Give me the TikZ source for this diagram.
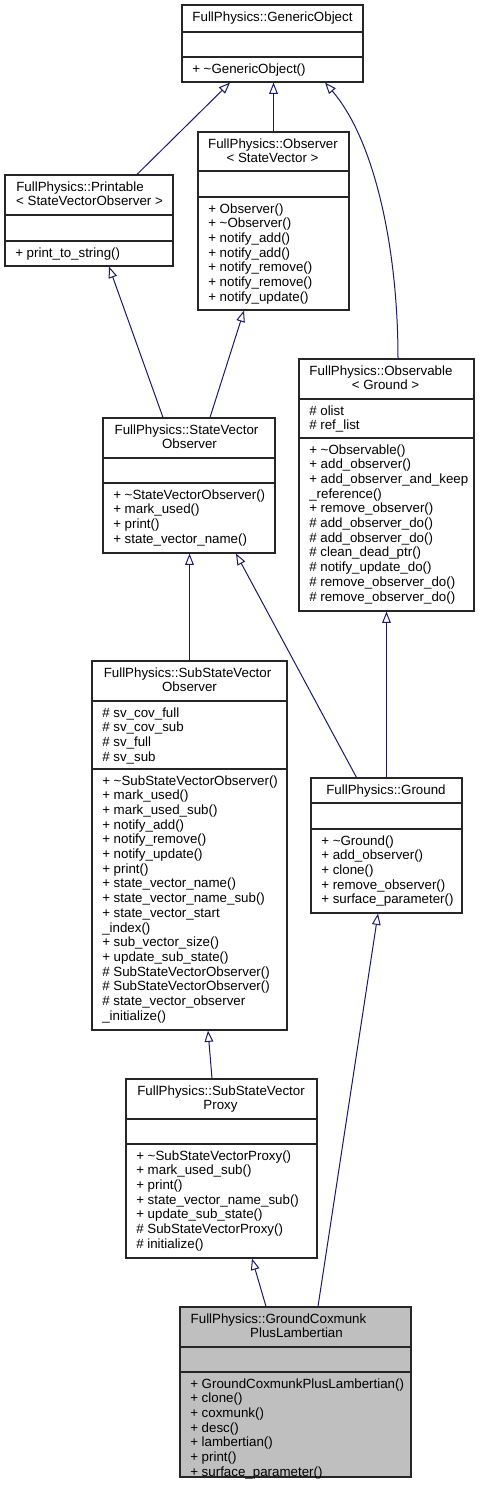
\documentclass[tikz,border=0pt]{standalone}
\usepackage{fontspec}
\setmainfont{Liberation Sans}
\usetikzlibrary{arrows.meta,calc}
\definecolor{edgeblue}{HTML}{191970}

\begin{document}
\begin{tikzpicture}[x=0.75pt,y=-0.75pt,font=\fontsize{10}{11}\selectfont,
  cls/.style n args={2}{draw=black!85,line width=0.85pt,minimum width=#1*0.75pt,minimum height=#2*0.75pt,inner sep=0pt},
  sep/.style={draw=black!85,line width=0.85pt},
  ttl/.style={anchor=base,inner sep=0pt},
  mem/.style={anchor=base west,inner sep=0pt},
  inh/.style={-{Triangle[open,length=8.5pt,width=6.5pt]},draw=edgeblue,line width=0.75pt}]
\useasboundingbox (0,0) rectangle (479,1492);
% classes
\node[cls={181}{77}]  (generic)    at (272.5,43.5) {};
\node[cls={168}{91}]  (printable)  at (89,220.5) {};
\node[cls={151}{178}] (observer)   at (273.5,221) {};
\node[cls={172}{135}] (svo)        at (189,485.5) {};
\node[cls={175}{252}] (observable) at (386.5,485) {};
\node[cls={195}{369}] (subsvo)     at (189.5,845.5) {};
\node[cls={151}{135}] (ground)     at (386.5,845.5) {};
\node[cls={191}{179}] (proxy)      at (221.5,1168.5) {};
\node[cls={231}{170},fill=black!25] (gcpl) at (295.5,1392) {};
% compartments
\draw[sep] (generic.west |- 0,32) -- (generic.east |- 0,32) (generic.west |- 0,57) -- (generic.east |- 0,57);
\draw[sep] (printable.west |- 0,215) -- (printable.east |- 0,215) (printable.west |- 0,241) -- (printable.east |- 0,241);
\draw[sep] (observer.west |- 0,171) -- (observer.east |- 0,171) (observer.west |- 0,197) -- (observer.east |- 0,197);
\draw[sep] (svo.west |- 0,458) -- (svo.east |- 0,458) (svo.west |- 0,483) -- (svo.east |- 0,483);
\draw[sep] (observable.west |- 0,399) -- (observable.east |- 0,399) (observable.west |- 0,438) -- (observable.east |- 0,438);
\draw[sep] (subsvo.west |- 0,701) -- (subsvo.east |- 0,701) (subsvo.west |- 0,769) -- (subsvo.east |- 0,769);
\draw[sep] (ground.west |- 0,803) -- (ground.east |- 0,803) (ground.west |- 0,829) -- (ground.east |- 0,829);
\draw[sep] (proxy.west |- 0,1119) -- (proxy.east |- 0,1119) (proxy.west |- 0,1144) -- (proxy.east |- 0,1144);
\draw[sep] (gcpl.west |- 0,1347) -- (gcpl.east |- 0,1347) (gcpl.west |- 0,1372) -- (gcpl.east |- 0,1372);
% titles
\node[ttl] (generic-t)     at (272.5,21.5) {FullPhysics::GenericObject};
\node[ttl] (printable-t1)  at (80,191) {FullPhysics::Printable};
\node[ttl] (printable-t2)  at (89.5,205.7) {< StateVectorObserver >};
\node[ttl] (observer-t1)   at (273,148) {FullPhysics::Observer};
\node[ttl] (observer-t2)   at (272.5,162.7) {< StateVector >};
\node[ttl] (svo-t1)        at (186.5,434) {FullPhysics::StateVector};
\node[ttl] (svo-t2)        at (189.5,448.7) {Observer};
\node[ttl] (observable-t1) at (381,375) {FullPhysics::Observable};
\node[ttl] (observable-t2) at (385.5,389.7) {< Ground >};
\node[ttl] (subsvo-t1)     at (187.5,677) {FullPhysics::SubStateVector};
\node[ttl] (subsvo-t2)     at (189.5,691.7) {Observer};
\node[ttl] (ground-t)      at (386,794) {FullPhysics::Ground};
\node[ttl] (proxy-t1)      at (221,1095) {FullPhysics::SubStateVector};
\node[ttl] (proxy-t2)      at (220.5,1109.7) {Proxy};
\node[ttl] (gcpl-t1)       at (278.5,1323) {FullPhysics::GroundCoxmunk};
\node[ttl] (gcpl-t2)       at (296.5,1337.7) {PlusLambertian};
% members
\foreach \t [count=\i from 0] in {+ \textasciitilde GenericObject()}
  \node[mem] (generic-m\i) at (192,{73+14.7*\i}) {\t};
\foreach \t [count=\i from 0] in {+ print\_to\_string()}
  \node[mem] (printable-m\i) at (15,{257+14.7*\i}) {\t};
\foreach \t [count=\i from 0] in {+ Observer(),+ \textasciitilde Observer(),+ notify\_add(),+ notify\_add(),
    + notify\_remove(),+ notify\_remove(),+ notify\_update()}
  \node[mem] (observer-m\i) at (208,{213+14.7*\i}) {\t};
\foreach \t [count=\i from 0] in {+ \textasciitilde StateVectorObserver(),+ mark\_used(),+ print(),+ state\_vector\_name()}
  \node[mem] (svo-m\i) at (113,{499+14.7*\i}) {\t};
\foreach \t [count=\i from 0] in {\# olist,\# ref\_list}
  \node[mem] (observable-a\i) at (309,{415+14.7*\i}) {\t};
\foreach \t [count=\i from 0] in {+ \textasciitilde Observable(),+ add\_observer(),+ add\_observer\_and\_keep,
    \_reference(),+ remove\_observer(),\# add\_observer\_do(),\# add\_observer\_do(),\# clean\_dead\_ptr(),
    \# notify\_update\_do(),\# remove\_observer\_do(),\# remove\_observer\_do()}
  \node[mem] (observable-m\i) at (309,{454+14.7*\i}) {\t};
\foreach \t [count=\i from 0] in {\# sv\_cov\_full,\# sv\_cov\_sub,\# sv\_full,\# sv\_sub}
  \node[mem] (subsvo-a\i) at (102,{717+14.7*\i}) {\t};
\foreach \t [count=\i from 0] in {+ \textasciitilde SubStateVectorObserver(),+ mark\_used(),+ mark\_used\_sub(),
    + notify\_add(),+ notify\_remove(),+ notify\_update(),+ print(),+ state\_vector\_name(),
    + state\_vector\_name\_sub(),+ state\_vector\_start,\_index(),+ sub\_vector\_size(),
    + update\_sub\_state(),\# SubStateVectorObserver(),\# SubStateVectorObserver(),
    \# state\_vector\_observer,\_initialize()}
  \node[mem] (subsvo-m\i) at (102,{785+14.7*\i}) {\t};
\foreach \t [count=\i from 0] in {+ \textasciitilde Ground(),+ add\_observer(),+ clone(),+ remove\_observer(),+ surface\_parameter()}
  \node[mem] (ground-m\i) at (321,{845+14.7*\i}) {\t};
\foreach \t [count=\i from 0] in {+ \textasciitilde SubStateVectorProxy(),+ mark\_used\_sub(),+ print(),
    + state\_vector\_name\_sub(),+ update\_sub\_state(),\# SubStateVectorProxy(),\# initialize()}
  \node[mem] (proxy-m\i) at (136,{1160+14.7*\i}) {\t};
\foreach \t [count=\i from 0] in {+ GroundCoxmunkPlusLambertian(),+ clone(),+ coxmunk(),+ desc(),
    + lambertian(),+ print(),+ surface\_parameter()}
  \node[mem] (gcpl-m\i) at (190,{1388+14.7*\i}) {\t};
% inheritance
\draw[inh] ($(printable.north)+(48,0)$) -- ($(generic.south)+(-42.5,0)$);
\draw[inh] (observer.north) -- (observer.north |- generic.south);
\draw[inh] ($(observable.north)+(11.5,0)$) .. controls ($(observable.north)+(11.5,-109)$) and ($(generic.south)+(102.5,58)$) .. ($(generic.south)+(52.5,0)$);
\draw[inh] ($(svo.north)+(-26,0)$) -- ($(printable.south)+(20,0)$);
\draw[inh] ($(svo.north)+(21,0)$) -- ($(observer.south)+(-29.5,0)$);
\draw[inh] (subsvo.north) -- (subsvo.north |- svo.south);
\draw[inh] ($(ground.north)+(-30,0)$) -- ($(svo.south)+(47,0)$);
\draw[inh] (ground.north) -- (ground.north |- observable.south);
\draw[inh] ($(proxy.north)+(-9.5,0)$) -- ($(subsvo.south)+(18.5,0)$);
\draw[inh] ($(gcpl.north)+(-29.5,0)$) -- ($(proxy.south)+(30.5,0)$);
\draw[inh] ($(gcpl.north)+(22.5,0)$) -- ($(ground.south)+(-8.5,0)$);
\end{tikzpicture}
\end{document}
